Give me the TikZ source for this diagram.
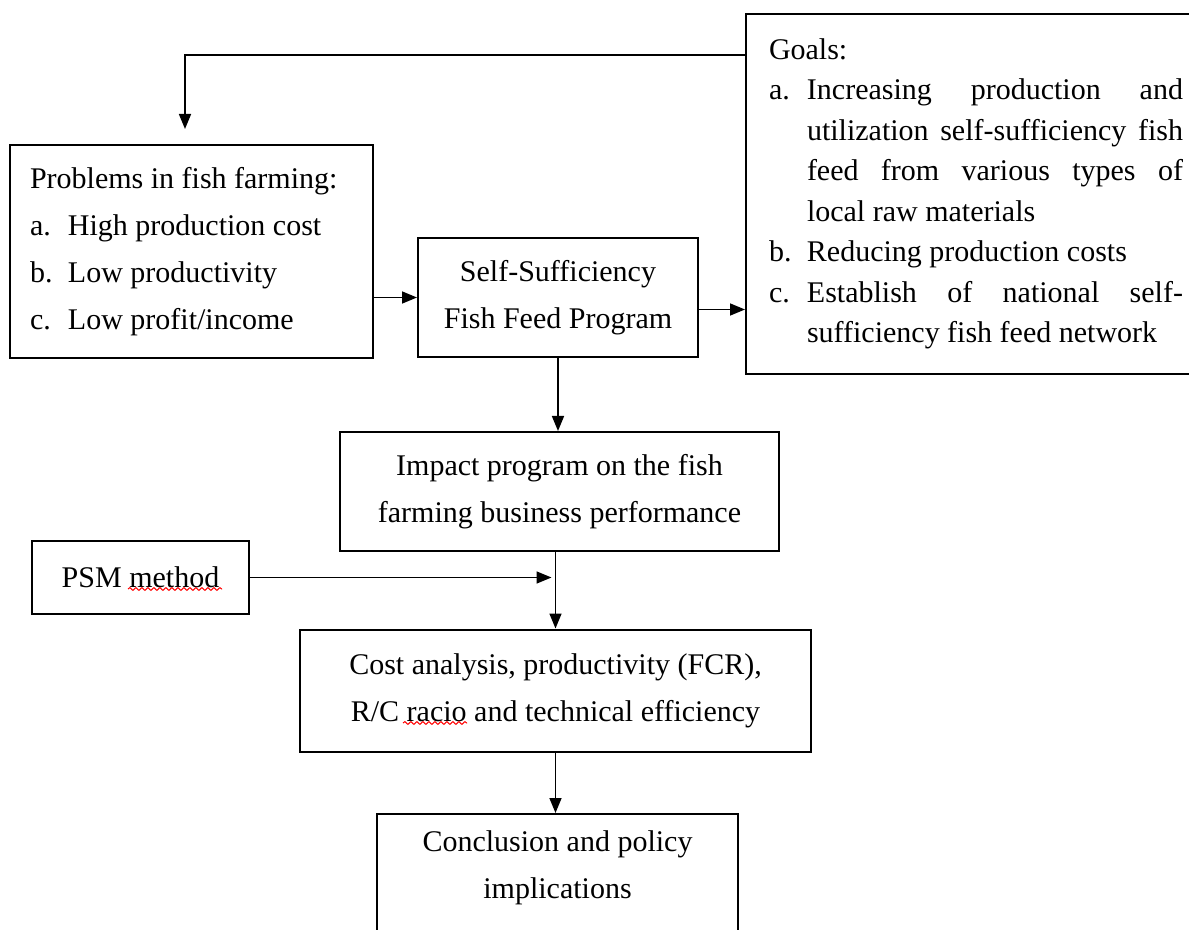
\documentclass[tikz,border=0pt]{standalone}
\usepackage{fontspec}
\setmainfont{Liberation Serif}
\usetikzlibrary{arrows.meta,decorations.pathmorphing,calc}
\newcommand\natsp{\spaceskip=0pt\relax\xspaceskip=0pt\relax}
\begin{document}
\begin{tikzpicture}[x=0.5pt,y=-0.5pt,
 box/.style={draw, line width=1pt, inner sep=0pt, font=\fontsize{15}{23.5}\selectfont},
 arr/.style={line width=0.8pt, -{Triangle[length=7.5pt,width=6pt]}},
 wave/.style={red, line width=0.5pt, decorate, decoration={snake, amplitude=0.7pt, segment length=3pt}}]
\useasboundingbox (0,0) rectangle (1189,930);

\node[box, minimum width=181.5pt, minimum height=106.5pt, text width=161.5pt, inner xsep=10pt, align=left] (probs) at (191.5,251.5)
 {\natsp Problems in fish farming:\\ \makebox[19pt][l]{a.}High production cost\\ \makebox[19pt][l]{b.}Low productivity\\ \makebox[19pt][l]{c.}Low profit/income};

\node[box, minimum width=140pt, minimum height=59.5pt, align=center] (ssf) at (558,297.5) {\natsp Self-Sufficiency\\Fish Feed Program};

\node[box, anchor=north west, minimum height=180pt, text width=207pt, inner xsep=11.5pt, align=left, font=\fontsize{15}{20.25}\selectfont] (goals) at (745,13)
 {\natsp Goals:\\
 \makebox[19pt][l]{a.}\makebox[188pt][s]{Increasing production and}\\
 \hspace*{19pt}\makebox[188pt][s]{utilization self-sufficiency fish}\\
 \hspace*{19pt}\makebox[188pt][s]{feed from various types of}\\
 \hspace*{19pt}local raw materials\\
 \makebox[19pt][l]{b.}Reducing production costs\\
 \makebox[19pt][l]{c.}\makebox[188pt][s]{Establish of national self-}\\
 \hspace*{19pt}sufficiency fish feed network};

\node[box, minimum width=219.5pt, minimum height=59.5pt, align=center] (impact) at (559.5,491.5) {\natsp Impact program on the fish\\farming business performance};

\node[box, minimum width=108.5pt, minimum height=36.5pt] (psm) at (140.5,577.5) {PSM method};

\node[box, minimum width=255.5pt, minimum height=61pt, align=center] (cost) at (555.5,690.5) {\natsp Cost analysis, productivity (FCR),\\R/C racio and technical efficiency};

\node[box, anchor=north, minimum width=180.5pt, minimum height=100pt] (concl) at (557.5,813) {};
\node[font=\fontsize{15}{23.5}\selectfont, align=center, inner sep=0pt] (conclt) at (557.5,868) {\natsp Conclusion and policy\\implications};

\coordinate (gy) at (0,55);
\draw[arr, shorten >=7.5pt] (goals.west |- gy) -| ([xshift=-3.25pt]probs.north);
\draw[arr] (probs.east |- ssf.center) -- (ssf.west);
\coordinate (s3) at ([yshift=-6pt]ssf.east);
\draw[arr] (s3) -- (s3 -| goals.west);
\draw[arr] (ssf.south) -- (ssf.south |- impact.north);
\draw[arr] (impact.south -| cost.north) -- (cost.north);
\coordinate (pj) at (psm.east -| cost.north);
\draw[arr, shorten >=2pt] (psm.east) -- (pj);
\draw[arr] (cost.south) -- (cost.south |- concl.north);

\draw[wave] (128,589) -- (222,589);
\draw[wave] (403,723) -- (467,723);
\end{tikzpicture}
\end{document}
